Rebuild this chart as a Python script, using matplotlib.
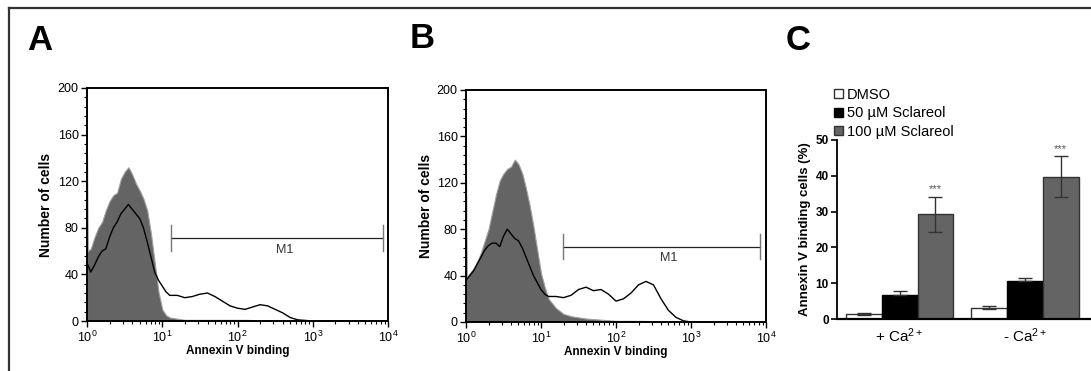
import numpy as np
import matplotlib
matplotlib.use("Agg")
import matplotlib.pyplot as plt
from matplotlib.ticker import AutoMinorLocator, LogLocator, NullFormatter
from matplotlib.lines import Line2D

plt.rcParams['font.family'] = ['Liberation Sans', 'DejaVu Sans']
plt.rcParams['mathtext.fontset'] = 'custom'
plt.rcParams['mathtext.rm'] = 'Liberation Sans'
plt.rcParams['mathtext.it'] = 'Liberation Sans'
plt.rcParams['mathtext.bf'] = 'Liberation Sans:bold'

# Histogram data, x given in decades (log10 of Annexin V fluorescence)
a_fill_dec = [0.0, 0.01, 0.05, 0.1, 0.15, 0.2, 0.25, 0.3, 0.35, 0.4, 0.45, 0.5, 0.55, 0.6,
              0.65, 0.7, 0.75, 0.8, 0.85, 0.9, 0.95, 1.0, 1.05, 1.1, 1.2, 1.3, 1.5, 1.8,
              2.1, 2.4, 2.7, 3.0, 3.5, 4.0]
a_fill_cnt = [142, 60, 62, 72, 80, 85, 95, 103, 108, 110, 122, 128, 132, 126,
              118, 112, 105, 95, 75, 50, 25, 10, 5, 3, 2, 1, 1, 1,
              1, 0.5, 0.5, 0, 0, 0]
a_line_dec = [0.0, 0.05, 0.1, 0.15, 0.2, 0.25, 0.3, 0.35, 0.4, 0.45, 0.5, 0.55, 0.6, 0.65,
              0.7, 0.75, 0.8, 0.85, 0.9, 0.95, 1.0, 1.05, 1.1, 1.2, 1.3, 1.4, 1.5, 1.6,
              1.7, 1.8, 1.9, 2.0, 2.1, 2.2, 2.3, 2.4, 2.5, 2.6, 2.7, 2.8, 2.9, 3.0, 4.0]
a_line_cnt = [50, 42, 48, 55, 60, 62, 72, 80, 85, 92, 96, 100, 96, 92,
              88, 80, 68, 55, 42, 35, 30, 25, 22, 22, 20, 21, 23, 24,
              21, 17, 13, 11, 10, 12, 14, 13, 10, 7, 3, 1, 0.5, 0, 0]

b_fill_dec = [0.0, 0.01, 0.05, 0.1, 0.15, 0.2, 0.25, 0.3, 0.35, 0.4, 0.45, 0.5, 0.55, 0.6,
              0.65, 0.7, 0.75, 0.8, 0.85, 0.9, 0.95, 1.0, 1.05, 1.1, 1.2, 1.3, 1.4, 1.5,
              1.6, 1.8, 2.0, 2.3, 2.7, 3.0, 4.0]
b_fill_cnt = [130, 38, 42, 46, 52, 60, 70, 80, 95, 110, 122, 128, 132, 134,
              140, 136, 128, 115, 100, 82, 62, 42, 30, 20, 12, 7, 5, 4,
              3, 2, 1, 1, 0.5, 0, 0]
b_line_dec = [0.0, 0.05, 0.1, 0.15, 0.2, 0.25, 0.3, 0.35, 0.4, 0.45, 0.5, 0.55, 0.6, 0.65,
              0.7, 0.75, 0.8, 0.85, 0.9, 0.95, 1.0, 1.05, 1.1, 1.2, 1.3, 1.4, 1.5, 1.6,
              1.7, 1.8, 1.9, 2.0, 2.1, 2.2, 2.3, 2.4, 2.5, 2.6, 2.7, 2.8, 2.9, 3.0, 4.0]
b_line_cnt = [36, 40, 44, 50, 56, 62, 66, 68, 68, 65, 74, 80, 76, 72,
              70, 64, 56, 48, 40, 34, 28, 24, 22, 22, 21, 23, 28, 30,
              27, 28, 24, 18, 20, 25, 32, 35, 32, 20, 10, 4, 1, 0, 0]

# M1 marker: start decade, end decade, count level
a_m1 = (1.12, 3.93, 71)
b_m1 = (1.29, 3.92, 65)

# Panel C bar data
groups = ['+ Ca$^{2+}$', '- Ca$^{2+}$']
treatments = ['DMSO', '50 µM Sclareol', '100 µM Sclareol']
means = {'DMSO': [1.3, 3.2], '50 µM Sclareol': [6.7, 10.7], '100 µM Sclareol': [29.2, 39.8]}
errs = {'DMSO': [0.3, 0.5], '50 µM Sclareol': [1.1, 0.8], '100 µM Sclareol': [5.0, 5.6]}
stars = ['***', '***']

GRAY = '#646464'

fig = plt.figure(figsize=(10.91, 3.71), dpi=100)

# outer frame lines
fig.add_artist(Line2D([9 / 1091, 1.0], [1 - 7.5 / 371, 1 - 7.5 / 371], color='#333333', lw=1.6))
fig.add_artist(Line2D([9 / 1091, 9 / 1091], [0, 1 - 7.5 / 371], color='#333333', lw=1.6))


def hist_panel(ax, fill_dec, fill_cnt, line_dec, line_cnt, m1):
    fx = 10 ** np.array(fill_dec)
    lx = 10 ** np.array(line_dec)
    ax.fill_between(fx, 0, fill_cnt, color=GRAY, lw=0.8, edgecolor='#a0a0a0')
    ax.plot(lx, line_cnt, color='black', lw=1.0)
    ax.set_xscale('log')
    ax.set_xlim(1, 1e4)
    ax.set_ylim(0, 200)
    ax.set_yticks([0, 40, 80, 120, 160, 200])
    ax.yaxis.set_minor_locator(AutoMinorLocator(5))
    ax.xaxis.set_major_locator(LogLocator(base=10, numticks=10))
    ax.xaxis.set_minor_locator(LogLocator(base=10, subs=np.arange(2, 10), numticks=20))
    ax.xaxis.set_minor_formatter(NullFormatter())
    ax.tick_params(axis='both', which='major', direction='out', length=4, width=1, labelsize=9,
                   pad=2)
    ax.tick_params(axis='both', which='minor', direction='out', length=2, width=0.8)
    for s in ax.spines.values():
        s.set_linewidth(1.4)
    ax.set_ylabel('Number of cells', fontsize=10, fontweight='bold', labelpad=3)
    ax.set_xlabel('Annexin V binding', fontsize=8.5, fontweight='bold', labelpad=0)
    x0, x1, yv = 10 ** m1[0], 10 ** m1[1], m1[2]
    ax.plot([x0, x1], [yv, yv], color='#222222', lw=0.9)
    ax.plot([x0, x0], [yv - 11, yv + 11], color='#777777', lw=1.0)
    ax.plot([x1, x1], [yv - 11, yv + 11], color='#777777', lw=1.0)
    xm = 10 ** ((m1[0] + m1[1]) / 2 + 0.1)
    ax.text(xm, yv - 5, 'M1', ha='center', va='top', fontsize=9, color='#333333')


axA = fig.add_axes([87 / 1091, 50 / 371, 301 / 1091, 233 / 371])
hist_panel(axA, a_fill_dec, a_fill_cnt, a_line_dec, a_line_cnt, a_m1)
axB = fig.add_axes([466 / 1091, 49 / 371, 300 / 1091, 232 / 371])
hist_panel(axB, b_fill_dec, b_fill_cnt, b_line_dec, b_line_cnt, b_m1)

# Panel C
axC = fig.add_axes([837 / 1091, 52 / 371, 254 / 1091, 179 / 371])
w = 0.287
x = np.arange(len(groups))
styles = {'DMSO': dict(color='white', edgecolor='#333333'),
          '50 µM Sclareol': dict(color='black', edgecolor='black'),
          '100 µM Sclareol': dict(color=GRAY, edgecolor='#333333')}
handles = []
for i, t in enumerate(treatments):
    pos = x + (i - 1) * w
    b = axC.bar(pos, means[t], w, lw=1.0, label=t, zorder=2, **styles[t])
    handles.append(b)
    lo = [0 if t == '50 µM Sclareol' else e for e in errs[t]]
    axC.errorbar(pos, means[t], yerr=[lo, errs[t]], fmt='none', ecolor='#333333',
                 elinewidth=1.0, capsize=5, capthick=1.0, zorder=3)
for j in range(len(groups)):
    t = '100 µM Sclareol'
    axC.text(x[j] + w, means[t][j] + errs[t][j] + 0.8, stars[j], ha='center', va='bottom',
             fontsize=8, color='#555555')
axC.set_xlim(-0.5, 1.53)
axC.set_ylim(0, 50)
axC.set_yticks([0, 10, 20, 30, 40, 50])
axC.set_xticks(x)
axC.set_xticklabels(groups, fontsize=11)
axC.tick_params(axis='x', length=0, pad=5)
axC.tick_params(axis='y', direction='out', length=4, width=1.2, labelsize=8.5, pad=2)
for lab in axC.get_yticklabels():
    lab.set_fontweight('bold')
axC.spines['top'].set_visible(False)
axC.spines['right'].set_visible(False)
axC.spines['left'].set_linewidth(1.3)
axC.spines['bottom'].set_linewidth(1.6)
axC.set_ylabel('Annexin V binding cells (%)', fontsize=9.5, fontweight='bold', labelpad=3)
fig.legend(handles=handles, labels=treatments, loc='upper left',
           bbox_to_anchor=(834 / 1091, 1 - 88 / 371), frameon=False, fontsize=10.5,
           handlelength=0.6, handleheight=0.6, handletextpad=0.3, labelspacing=0.3,
           borderaxespad=0, borderpad=0)

# panel letters
for lbl, px, py in [('A', 40, 41), ('B', 422, 39), ('C', 798, 40)]:
    fig.text(px / 1091, 1 - py / 371, lbl, fontsize=25, fontweight='bold', ha='center',
             va='center')

fig.savefig('out.png', dpi=100)
